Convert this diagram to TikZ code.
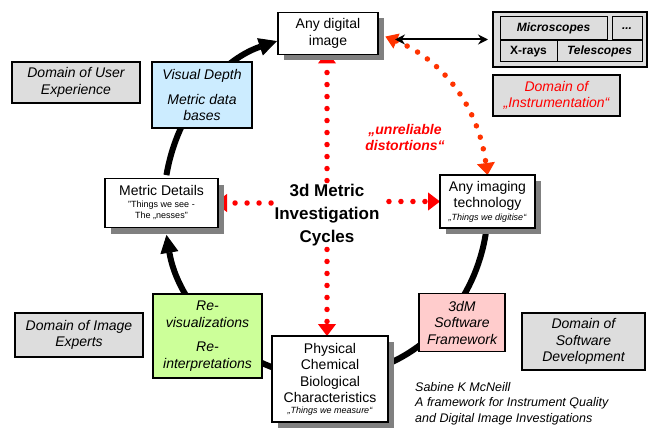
\documentclass[tikz,border=0pt]{standalone}
\usepackage{fontspec}
\setmainfont{Liberation Sans}
\usetikzlibrary{arrows.meta}
\usetikzlibrary{shadows}
\usetikzlibrary{backgrounds}

\definecolor{boxgray}{RGB}{221,221,221}
\definecolor{depthblue}{RGB}{204,236,255}
\definecolor{regreen}{RGB}{204,255,153}
\definecolor{softpink}{RGB}{255,204,204}
\definecolor{curvered}{RGB}{255,51,0}

\newcommand{\boxfont}{\fontsize{14}{16.5}\selectfont}
\newcommand{\tinyfont}{\fontsize{9}{11}\selectfont}

\begin{document}
\begin{tikzpicture}[x=1pt,y=1pt,
    box/.style={draw,line width=1.2pt,inner sep=0pt,outer sep=0pt,align=center,font=\boxfont},
    shadowed/.style={box,fill=white,drop shadow={shadow xshift=6pt,shadow yshift=-6pt,fill=gray,opacity=1}},
    domainbox/.style={box,fill=boxgray,font=\boxfont\itshape},
    cell/.style={box,fill=boxgray,line width=1pt,font=\fontsize{12}{14}\selectfont\bfseries\itshape},
    cyclearc/.style={line width=6pt,-{Triangle[length=18pt,width=18pt,line width=1pt]}},
    reddots/.style={red,line width=5.5pt,line cap=round,dash pattern=on 0pt off 12pt,
      -{Triangle[length=12pt,width=18pt,line width=1pt]}}]
  \useasboundingbox (0,0) rectangle (653,432);
  %
  \node[shadowed,minimum width=100pt,minimum height=42pt] (img) at (328,398.5) {Any digital\\image};
  \node[box,fill=boxgray,minimum width=154pt,minimum height=55pt] (inst) at (570,392.5) {};
  \node[cell,minimum width=107pt,minimum height=23pt] (micro) at (553.5,403.5) {Microscopes};
  \node[cell,minimum width=30pt,minimum height=23pt] (more) at (627,403.5) {...};
  \node[cell,minimum width=57pt,minimum height=21pt,font=\fontsize{12}{14}\selectfont\bfseries] (xray) at (528.5,380.5) {X-rays};
  \node[cell,minimum width=85pt,minimum height=21pt] (tele) at (599.5,380.5) {Telescopes};
  \node[domainbox,text=red,minimum width=127pt,minimum height=41pt] (instdom) at (556.5,336.5) {Domain of\\„Instrumentation“};
  \node[text=red,align=center,font=\fontsize{14}{16}\selectfont\bfseries\itshape] (distort) at (405,295) {„unreliable\\distortions“};
  %
  \node[domainbox,minimum width=128pt,minimum height=41pt] (userdom) at (76,349.5) {Domain of User\\Experience};
  \node[box,fill=depthblue,font=\boxfont\itshape,minimum width=100pt,minimum height=66pt] (depth) at (202,337) {Visual Depth\\[8pt]Metric data\\bases};
  \node[shadowed,minimum width=113pt,minimum height=49pt] (metric) at (161.5,229)
    {Metric Details\\[-5pt]{\tinyfont "Things we see -}\\[-5pt]{\tinyfont The „nesses"}};
  \node[align=center,font=\fontsize{17}{23}\selectfont\bfseries] (hub) at (327,217) {3d Metric\\Investigation\\Cycles};
  \node[shadowed,minimum width=95pt,minimum height=53pt] (tech) at (487.5,230.5)
    {Any imaging\\technology\\[-4pt]{\tinyfont\itshape „Things we digitise“}};
  %
  \node[domainbox,minimum width=128pt,minimum height=44pt] (imgdom) at (79,97) {Domain of Image\\Experts};
  \node[box,fill=regreen,font=\boxfont\itshape,minimum width=109pt,minimum height=84pt] (revis) at (207.5,96)
    {Re-\\visualizations\\[8pt]Re-\\interpretations};
  \node[shadowed,minimum width=116pt,minimum height=86pt] (phys) at (330,53)
    {Physical\\Chemical\\Biological\\Characteristics\\[-6pt]{\tinyfont\itshape „Things we measure“}};
  \node[box,fill=softpink,font=\boxfont\itshape,minimum width=86pt,minimum height=58pt] (soft) at (462,109.5) {3dM\\Software\\Framework};
  \node[domainbox,minimum width=123pt,minimum height=57pt] (softdom) at (583.5,90.5) {Domain of\\Software\\Development};
  \node[anchor=north west,align=left,inner sep=0pt,font=\fontsize{12.5}{15.5}\selectfont\itshape] (author) at (415,50)
    {Sabine K McNeill\\A framework for Instrument Quality\\and Digital Image Investigations};
  %
  \begin{scope}[on background layer]
    \coordinate (cyc) at (326,227);
    \draw[cyclearc] (cyc) ++(170:162 and 172) arc[start angle=170,end angle=107.6,x radius=162,y radius=172];
    \draw[cyclearc,-] (cyc) ++(-6:162 and 172) arc[start angle=-6,end angle=-70,x radius=162,y radius=172];
    \draw[cyclearc] (cyc) ++(-108:162 and 172) arc[start angle=-108,end angle=-170,x radius=162,y radius=172];
    %
    \draw[reddots,shorten >=-3pt] (hub.north) -- (hub.north |- img.south);
    \draw[reddots] (hub.south) -- (hub.south |- phys.north);
    \draw[reddots,shorten >=-3pt] (hub.west |- metric.east) -- (metric.east);
    \draw[reddots,shorten <=6pt] (hub.east |- tech.west) -- (tech.west);
    \draw[reddots,curvered,{Triangle[length=12pt,width=16pt,line width=1pt]}-{Triangle[length=12pt,width=18pt,line width=1pt]},shorten <=8pt]
      (img.east) to[bend left=30] (tech.north);
    \draw[{Stealth[length=10pt,width=10pt]}-{Stealth[length=10pt,width=10pt]},line width=2pt,shorten <=17pt,shorten >=5pt]
      (img.east |- inst.west) -- (inst.west);
  \end{scope}
\end{tikzpicture}
\end{document}
